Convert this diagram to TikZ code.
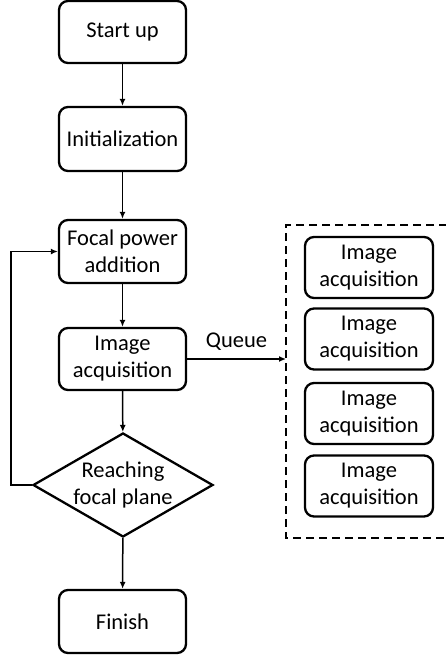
\documentclass[tikz,border=0pt]{standalone}
\usepackage{fontspec}
\setmainfont{Carlito}
\usetikzlibrary{shapes.geometric,arrows.meta}
\tikzset{
  procbox/.style={draw, line width=2.3pt, rounded corners=9pt, minimum width=127pt, align=center, inner sep=0pt},
  smallbox/.style={draw, line width=2.3pt, rounded corners=9pt, minimum width=128pt, minimum height=61pt, align=center, inner sep=0pt},
  decision/.style={draw, line width=2.3pt, diamond, aspect=1.73, minimum width=180pt, minimum height=104pt, align=center, inner sep=0pt},
  flow/.style={line width=1.5pt, -{Latex[length=7pt,width=6pt]}},
  txt/.style={font=\fontsize{22.5pt}{27pt}\selectfont}
}
\begin{document}
\begin{tikzpicture}[x=1pt,y=-1pt]
\useasboundingbox (0,0) rectangle (445,664);
\node[procbox,txt,minimum height=62pt] (start) at (122.5,32) {Start up};
\node[procbox,txt,minimum height=64pt] (init) at (122.5,139) {Initialization};
\node[procbox,txt,minimum height=63pt] (focal) at (122.5,251.5) {Focal power\\addition};
\node[procbox,txt,minimum height=62pt] (acq) at (122.5,359) {Image\\acquisition};
\node[decision,txt] (reach) at (123,485) {Reaching\\focal plane};
\node[procbox,txt,minimum height=63pt] (finish) at (122.5,621.5) {Finish};

\draw[flow] (start) -- (init);
\draw[flow] (init) -- (focal);
\draw[flow] (focal) -- (acq);
\draw[flow] (acq) -- (reach);
\draw[flow] (reach) -- (finish);
\coordinate (loopx) at (11,0);
\draw[flow] (reach.west) -| (loopx |- reach.west) |- (focal.west);

% queue container
\coordinate (qtl) at (286,225);
\coordinate (qbl) at (286,538);
\coordinate (qin) at (286,359);
\draw[line width=1.6pt, dash pattern=on 8pt off 5pt] (447,225) -- (qtl) -- (qbl) -- (447,538);
\draw[flow] (acq.east) -- (qin) node[pos=0.5, above=4pt, txt] (queue) {Queue};

\node[smallbox,txt] (q1) at (369,267.5) {Image\\acquisition};
\node[smallbox,txt] (q2) at (369,339) {Image\\acquisition};
\node[smallbox,txt] (q3) at (369,413.5) {Image\\acquisition};
\node[smallbox,txt] (q4) at (369,486) {Image\\acquisition};
\end{tikzpicture}
\end{document}
